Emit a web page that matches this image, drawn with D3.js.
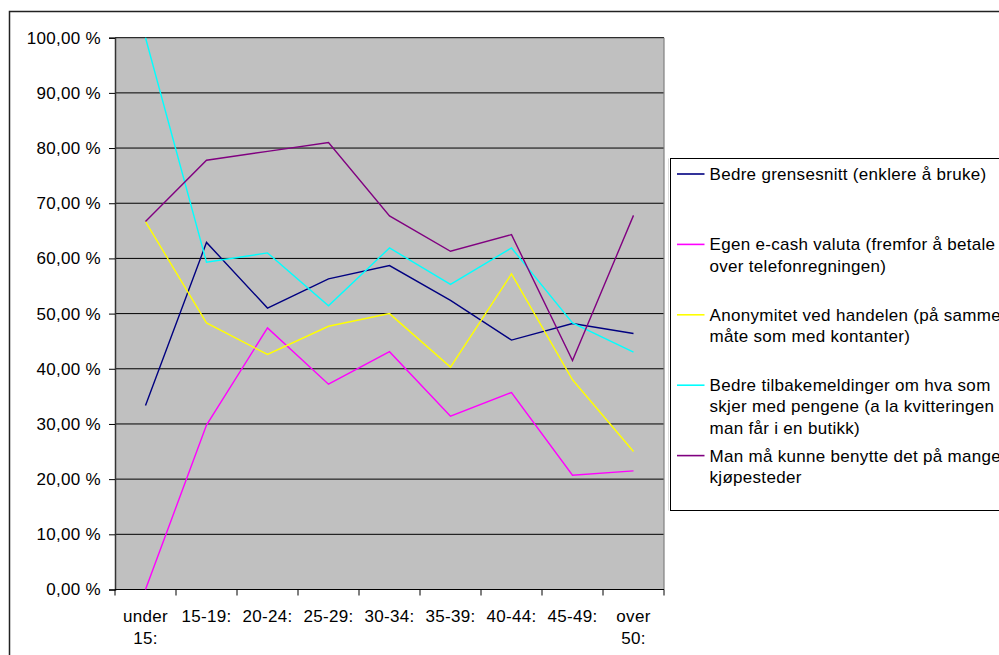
<!DOCTYPE html>
<html>
<head>
<meta charset="utf-8">
<script src="https://cdn.jsdelivr.net/npm/d3@7"></script>
<style>
  html, body { margin: 0; padding: 0; background: #fff; overflow: hidden; }
  svg { display: block; }
  text { font-family: "Liberation Sans", Arial, sans-serif; font-size: 17px; letter-spacing: 0.3px; fill: #000; }
</style>
</head>
<body>
<svg id="chart" width="999" height="655"></svg>
<script>
// Age groups along the x axis
const categories = ["under 15:", "15-19:", "20-24:", "25-29:", "30-34:", "35-39:", "40-44:", "45-49:", "over 50:"];

// Share of respondents (%) per age group, one array per answer
const grensesnitt   = [33.33, 62.9, 51.0, 56.3, 58.7, 52.4, 45.2, 48.2, 46.4];
const ecashValuta   = [0.0, 29.8, 47.4, 37.2, 43.1, 31.4, 35.7, 20.7, 21.5];
const anonymitet    = [66.67, 48.3, 42.6, 47.7, 50.0, 40.3, 57.2, 38.0, 25.0];
const tilbakemeld   = [100.0, 59.3, 61.0, 51.4, 61.9, 55.3, 61.9, 48.3, 43.0];
const mangeSteder   = [66.67, 77.8, 79.4, 81.0, 67.7, 61.3, 64.3, 41.5, 67.8];

// Legend labels, broken into lines
const seriesNames = [
  ["Bedre grensesnitt (enklere å bruke)"],
  ["Egen e-cash valuta (fremfor å betale", "over telefonregningen)"],
  ["Anonymitet ved handelen (på samme", "måte som med kontanter)"],
  ["Bedre tilbakemeldinger om hva som", "skjer med pengene (a la kvitteringen", "man får i en butikk)"],
  ["Man må kunne benytte det på mange", "kjøpesteder"]
];
const seriesColors = ["#000080", "#FF00FF", "#FFFF00", "#00FFFF", "#800080"];

// Y axis ticks (percent)
const yTicks = [0, 10, 20, 30, 40, 50, 60, 70, 80, 90, 100];

const series = [grensesnitt, ecashValuta, anonymitet, tilbakemeld, mangeSteder].map((values, i) => ({
  values, names: seriesNames[i], color: seriesColors[i]
}));

const svg = d3.select("#chart");

// Plot frame
const plot = { left: 115, right: 664, top: 37.7, bottom: 589.5 };

const x = d3.scaleBand().domain(categories).range([plot.left, plot.right]).paddingInner(0).paddingOuter(0);
const y = d3.scaleLinear().domain([0, 100]).range([plot.bottom, plot.top]);
const cx = c => x(c) + x.bandwidth() / 2;

// Outer chart border
svg.append("rect")
  .attr("x", 9.5).attr("y", 11.5).attr("width", 1200).attr("height", 1200)
  .attr("fill", "none").attr("stroke", "#222").attr("stroke-width", 1.5);

// Plot background
svg.append("rect")
  .attr("x", plot.left).attr("y", plot.top)
  .attr("width", plot.right - plot.left).attr("height", plot.bottom - plot.top)
  .attr("fill", "#C0C0C0");

// Horizontal gridlines
svg.append("g").selectAll("line")
  .data(yTicks.filter(t => t > 0))
  .join("line")
  .attr("x1", plot.left).attr("x2", plot.right)
  .attr("y1", d => y(d)).attr("y2", d => y(d))
  .attr("stroke", "#000").attr("stroke-width", 1);

// Right edge of plot area
svg.append("line")
  .attr("x1", plot.right).attr("x2", plot.right)
  .attr("y1", plot.top).attr("y2", plot.bottom)
  .attr("stroke", "#808080").attr("stroke-width", 1.2);

// Y axis
const yAxis = d3.axisLeft(y)
  .tickValues(yTicks)
  .tickSize(6)
  .tickPadding(8)
  .tickFormat(d => d.toFixed(2).replace(".", ",") + " %");
const gy = svg.append("g").attr("transform", `translate(${plot.left},0)`).call(yAxis);
gy.select(".domain").attr("stroke", "#333").attr("stroke-width", 1.5);
gy.selectAll(".tick line").attr("stroke", "#000");
gy.selectAll(".tick text")
  .style("font-family", '"Liberation Sans", Arial, sans-serif')
  .style("font-size", "17px")
  .attr("fill", "#000");

// X axis line
svg.append("line")
  .attr("x1", plot.left).attr("x2", plot.right)
  .attr("y1", plot.bottom).attr("y2", plot.bottom)
  .attr("stroke", "#000").attr("stroke-width", 1.2);

// X tick marks at the category boundaries
const boundaries = categories.map(c => x(c)).concat([plot.right]);
svg.append("g").selectAll("line")
  .data(boundaries)
  .join("line")
  .attr("x1", d => d).attr("x2", d => d)
  .attr("y1", plot.bottom).attr("y2", plot.bottom + 6)
  .attr("stroke", "#000").attr("stroke-width", 1);

// X category labels (wrapped at spaces)
const xl = svg.append("g").selectAll("text")
  .data(categories)
  .join("text")
  .attr("text-anchor", "middle")
  .attr("x", d => cx(d))
  .attr("y", 621.7);
xl.each(function(d) {
  const parts = d.split(" ");
  d3.select(this).selectAll("tspan")
    .data(parts)
    .join("tspan")
    .attr("x", cx(d))
    .attr("dy", (p, i) => i === 0 ? 0 : 22.3)
    .text(p => p);
});

// Series lines
const line = d3.line()
  .x((v, i) => cx(categories[i]))
  .y(v => y(v));

svg.append("g").selectAll("path")
  .data(series)
  .join("path")
  .attr("d", s => line(s.values))
  .attr("fill", "none")
  .attr("stroke", s => s.color)
  .attr("stroke-width", 1.4)
  .attr("stroke-linejoin", "miter");

// Legend
const legend = { left: 670.5, top: 158.5, bottom: 510.5, slot: 70.4 };
svg.append("line")
  .attr("x1", legend.left - 2).attr("x2", legend.left - 2)
  .attr("y1", legend.top).attr("y2", legend.bottom)
  .attr("stroke", "#ddd").attr("stroke-width", 1);
svg.append("rect")
  .attr("x", legend.left).attr("y", legend.top)
  .attr("width", 600).attr("height", legend.bottom - legend.top)
  .attr("fill", "#fff").attr("stroke", "#000").attr("stroke-width", 1);

const items = svg.append("g").selectAll("g")
  .data(series)
  .join("g")
  .attr("transform", (s, i) => `translate(0,${legend.top + i * legend.slot})`);

items.append("line")
  .attr("x1", 677).attr("x2", 704.5)
  .attr("y1", 15.5).attr("y2", 15.5)
  .attr("stroke", s => s.color)
  .attr("stroke-width", 1.6);

items.append("text")
  .attr("x", 709.5)
  .attr("y", 21.5)
  .each(function(s) {
    d3.select(this).selectAll("tspan")
      .data(s.names)
      .join("tspan")
      .attr("x", 709.5)
      .attr("dy", (t, i) => i === 0 ? 0 : 21.2)
      .text(t => t);
  });
</script>
</body>
</html>
